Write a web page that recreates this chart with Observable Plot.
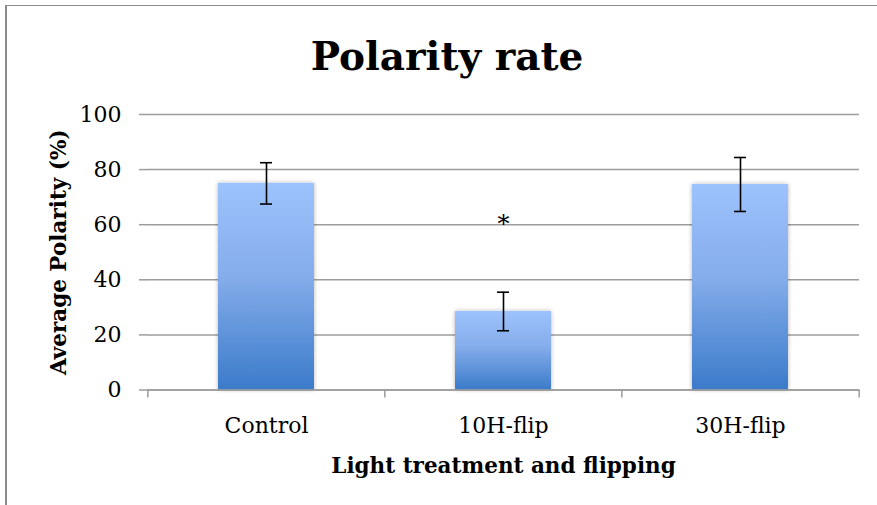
<!DOCTYPE html>
<html>
<head>
<meta charset="utf-8">
<script src="https://cdn.jsdelivr.net/npm/d3@7"></script>
<script src="https://cdn.jsdelivr.net/npm/@observablehq/plot@0.6"></script>
<style>
  html, body { margin: 0; padding: 0; background: #fff; overflow: hidden; }
  #frame { position: absolute; left: 5px; top: 5px; width: 900px; height: 520px;
           border-left: 2px solid #8c8c8c; border-top: 1px solid #8c8c8c; pointer-events: none; }
  #title { height: 95px; box-sizing: border-box; padding-top: 37px; padding-left: 17px;
           text-align: center; font-family: "DejaVu Serif", serif; font-weight: bold;
           font-size: 39px; line-height: 39px; color: #000; }
  #chart svg { display: block; }
</style>
</head>
<body>
<div id="frame"></div>
<div id="title">Polarity rate</div>
<div id="chart"></div>
<script>
// ---- data ----
const categories = ["Control", "10H-flip", "30H-flip"];
const means = [75.0, 28.5, 74.6];
const errors = [7.5, 7.0, 9.8];
const yTicks = [0, 20, 40, 60, 80, 100];
const annotations = [{category: "10H-flip", value: 60, label: "*"}];
const xTitle = "Light treatment and flipping";
const yTitle = "Average Polarity (%)";

const rows = categories.map((c, i) => ({category: c, mean: means[i], err: errors[i]}));

const W = 877, H = 410;
const mL = 147, mR = 18, mT = 19, mB = 115.5;
const step = (W - mL - mR) / categories.length;
const gridColor = "#9c9c9c";
const serif = "DejaVu Serif";

const defs = () => {
  const d = d3.create("svg:defs");
  const g = d.append("linearGradient").attr("id", "barGrad")
    .attr("x1", 0).attr("y1", 0).attr("x2", 0).attr("y2", 1);
  g.append("stop").attr("offset", "0%").attr("stop-color", "#9dc3fd");
  g.append("stop").attr("offset", "45%").attr("stop-color", "#85adeb");
  g.append("stop").attr("offset", "100%").attr("stop-color", "#3b7bca");
  const f = d.append("filter").attr("id", "barShadow")
    .attr("x", "-20%").attr("y", "-20%").attr("width", "140%").attr("height", "140%");
  f.append("feDropShadow").attr("dx", 0).attr("dy", 0).attr("stdDeviation", 2)
    .attr("flood-color", "#000").attr("flood-opacity", 0.3);
  return d.node();
};

const plot = Plot.plot({
  width: W, height: H,
  marginLeft: mL, marginRight: mR, marginTop: mT, marginBottom: mB,
  style: {fontFamily: serif, color: "#000", background: "transparent"},
  x: {domain: categories, paddingInner: 0.595, paddingOuter: 0.2975, label: null},
  y: {domain: [0, 100], label: null},
  marks: [
    defs,
    Plot.gridY(yTicks, {stroke: gridColor, strokeOpacity: 1, strokeWidth: 1.5}),
    Plot.axisY(yTicks, {tickSize: 8, tickPadding: 18, fontSize: 22, stroke: gridColor,
      strokeWidth: 1.5, strokeOpacity: 1, fill: "#000", label: null}),
    Plot.barY(rows, {x: "category", y: "mean", fill: "url(#barGrad)"}),
    Plot.ruleY([0], {stroke: gridColor, strokeWidth: 1.5}),
    Plot.ruleX(categories, {x: d => d, y1: 0, y2: 0, insetBottom: -8, dx: -step / 2,
      stroke: gridColor, strokeWidth: 1.5}),
    Plot.ruleX(categories.slice(-1), {x: d => d, y1: 0, y2: 0, insetBottom: -8, dx: step / 2,
      stroke: gridColor, strokeWidth: 1.5}),
    Plot.axisX({tickSize: 0, tickPadding: 27, fontSize: 22, fill: "#000", label: null}),
    Plot.ruleX(rows, {x: "category", y1: d => d.mean - d.err, y2: d => d.mean + d.err,
      stroke: "#000", strokeWidth: 1.6}),
    Plot.tickY(rows, {x: "category", y: d => d.mean - d.err, insetLeft: 42, insetRight: 42,
      stroke: "#000", strokeWidth: 1.6}),
    Plot.tickY(rows, {x: "category", y: d => d.mean + d.err, insetLeft: 42, insetRight: 42,
      stroke: "#000", strokeWidth: 1.6}),
    Plot.text(annotations, {x: "category", y: "value", text: "label", fontSize: 24,
      fill: "#000", lineAnchor: "middle"}),
    Plot.text([xTitle], {frameAnchor: "bottom", text: d => d, dy: 76.4, lineAnchor: "middle",
      fontSize: 21.5, fontWeight: "bold", fill: "#000"}),
    Plot.text([yTitle], {frameAnchor: "left", text: d => d, rotate: -90, dx: -88,
      textAnchor: "middle", lineAnchor: "middle", fontSize: 21.5, fontWeight: "bold", fill: "#000"})
  ]
});

plot.querySelectorAll('g[aria-label="bar"] rect').forEach(r => r.setAttribute("filter", "url(#barShadow)"));
document.getElementById("chart").appendChild(plot);
</script>
</body>
</html>
